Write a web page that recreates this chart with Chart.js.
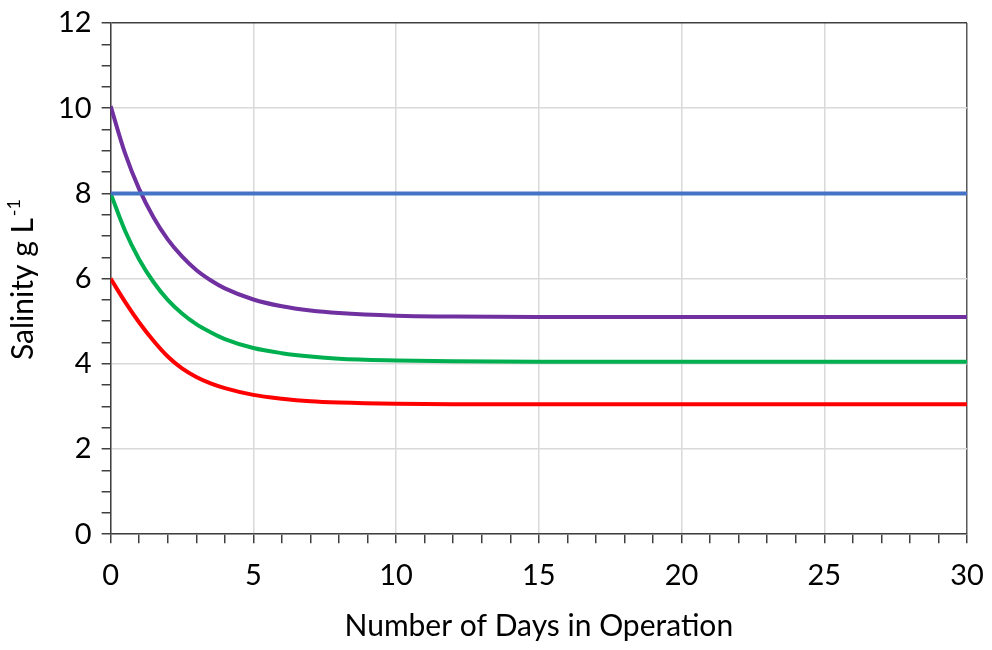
<!DOCTYPE html>
<html>
<head>
<meta charset="utf-8">
<script src="https://cdn.jsdelivr.net/npm/chart.js@4.4.1/dist/chart.umd.min.js"></script>
<style>
  html, body { margin: 0; padding: 0; background: #fff; }
  #chart { display: block; }
</style>
</head>
<body>
<canvas id="chart" width="992" height="650"></canvas>
<script>
const days = [0, 0.5, 1, 1.5, 2, 2.5, 3, 3.5, 4, 5, 6, 7, 8, 10, 12, 15, 20, 25, 30];

// Salinity (g/L) per series
const blueSeries   = [8, 8, 8, 8, 8, 8, 8, 8, 8, 8, 8, 8, 8, 8, 8, 8, 8, 8, 8];
const purpleSeries = [10.05, 8.95, 8.10, 7.44, 6.92, 6.52, 6.20, 5.96, 5.77, 5.51, 5.35, 5.25, 5.19, 5.13, 5.11, 5.10, 5.10, 5.10, 5.10];
const greenSeries  = [8.00, 7.13, 6.45, 5.92, 5.50, 5.18, 4.93, 4.74, 4.58, 4.37, 4.25, 4.17, 4.12, 4.08, 4.06, 4.05, 4.05, 4.05, 4.05];
const redSeries    = [6.00, 5.46, 4.97, 4.54, 4.17, 3.89, 3.69, 3.54, 3.43, 3.27, 3.18, 3.12, 3.09, 3.06, 3.05, 3.05, 3.05, 3.05, 3.05];

const xTicksMajor = [0, 5, 10, 15, 20, 25, 30];
const yTicksMajor = [0, 2, 4, 6, 8, 10, 12];

const FONT = 'Lato, "Open Sans", sans-serif';

function toPoints(vals) {
  return days.map((d, i) => ({ x: d, y: vals[i] }));
}

function makeLine(vals, color) {
  return {
    data: toPoints(vals),
    borderColor: color,
    backgroundColor: color,
    borderWidth: 4,
    pointRadius: 0,
    fill: false,
    cubicInterpolationMode: 'monotone'
  };
}

// y axis title with superscript, drawn rotated
const yTitlePlugin = {
  id: 'yTitle',
  afterDraw(chart) {
    const ctx = chart.ctx;
    ctx.save();
    ctx.translate(24, 279.5);
    ctx.rotate(-Math.PI / 2);
    ctx.fillStyle = '#000';
    ctx.textBaseline = 'alphabetic';
    ctx.font = '30px ' + FONT;
    const main = 'Salinity g L';
    const mainW = ctx.measureText(main).width;
    ctx.font = '18px ' + FONT;
    const sup = '-1';
    const supW = ctx.measureText(sup).width;
    const start = -(mainW + supW + 2) / 2;
    ctx.font = '30px ' + FONT;
    ctx.fillText(main, start, 9);
    ctx.font = '18px ' + FONT;
    ctx.fillText(sup, start + mainW + 2, -4);
    ctx.restore();
  }
};

new Chart(document.getElementById('chart'), {
  type: 'line',
  data: {
    datasets: [
      makeLine(blueSeries, '#4472C4'),
      makeLine(purpleSeries, '#7030A0'),
      makeLine(greenSeries, '#00B050'),
      makeLine(redSeries, '#FF0000')
    ]
  },
  options: {
    responsive: false,
    animation: false,
    devicePixelRatio: 1,
    layout: {
      padding: { left: 48, right: 25, top: 23, bottom: 6 }
    },
    plugins: {
      legend: { display: false },
      tooltip: { enabled: false }
    },
    scales: {
      x: {
        type: 'linear',
        min: 0,
        max: 30,
        afterFit: s => { s.paddingLeft = 0; s.paddingRight = 0; },
        ticks: {
          stepSize: 1,
          autoSkip: false,
          maxRotation: 0,
          padding: 15,
          color: '#000',
          font: { family: FONT, size: 29 },
          callback: v => xTicksMajor.includes(v) ? String(v) : ''
        },
        grid: {
          color: c => {
            if (!c.tick) return 'rgba(0,0,0,0)';
            if (c.tick.value === 30) return '#595959';
            return xTicksMajor.includes(c.tick.value) ? '#d9d9d9' : 'rgba(0,0,0,0)';
          },
          lineWidth: 1.5,
          tickColor: '#404040',
          tickLength: 9,
          drawOnChartArea: true
        },
        border: { color: '#404040', width: 1.5 },
        title: {
          display: true,
          text: 'Number of Days in Operation',
          color: '#000',
          font: { family: FONT, size: 30 },
          padding: { top: 0, bottom: 0 }
        }
      },
      y: {
        type: 'linear',
        min: 0,
        max: 12,
        afterFit: s => { s.paddingTop = 0; s.paddingBottom = 0; },
        ticks: {
          stepSize: 0.5,
          autoSkip: false,
          padding: 10,
          color: '#000',
          font: { family: FONT, size: 29 },
          callback: v => yTicksMajor.includes(v) ? String(v) : ''
        },
        grid: {
          color: c => {
            if (!c.tick) return 'rgba(0,0,0,0)';
            if (c.tick.value === 12) return '#404040';
            return yTicksMajor.includes(c.tick.value) ? '#d9d9d9' : 'rgba(0,0,0,0)';
          },
          lineWidth: 1.5,
          tickColor: '#404040',
          tickLength: 9
        },
        border: { color: '#404040', width: 1.5 }
      }
    }
  },
  plugins: [yTitlePlugin]
});
</script>
</body>
</html>
